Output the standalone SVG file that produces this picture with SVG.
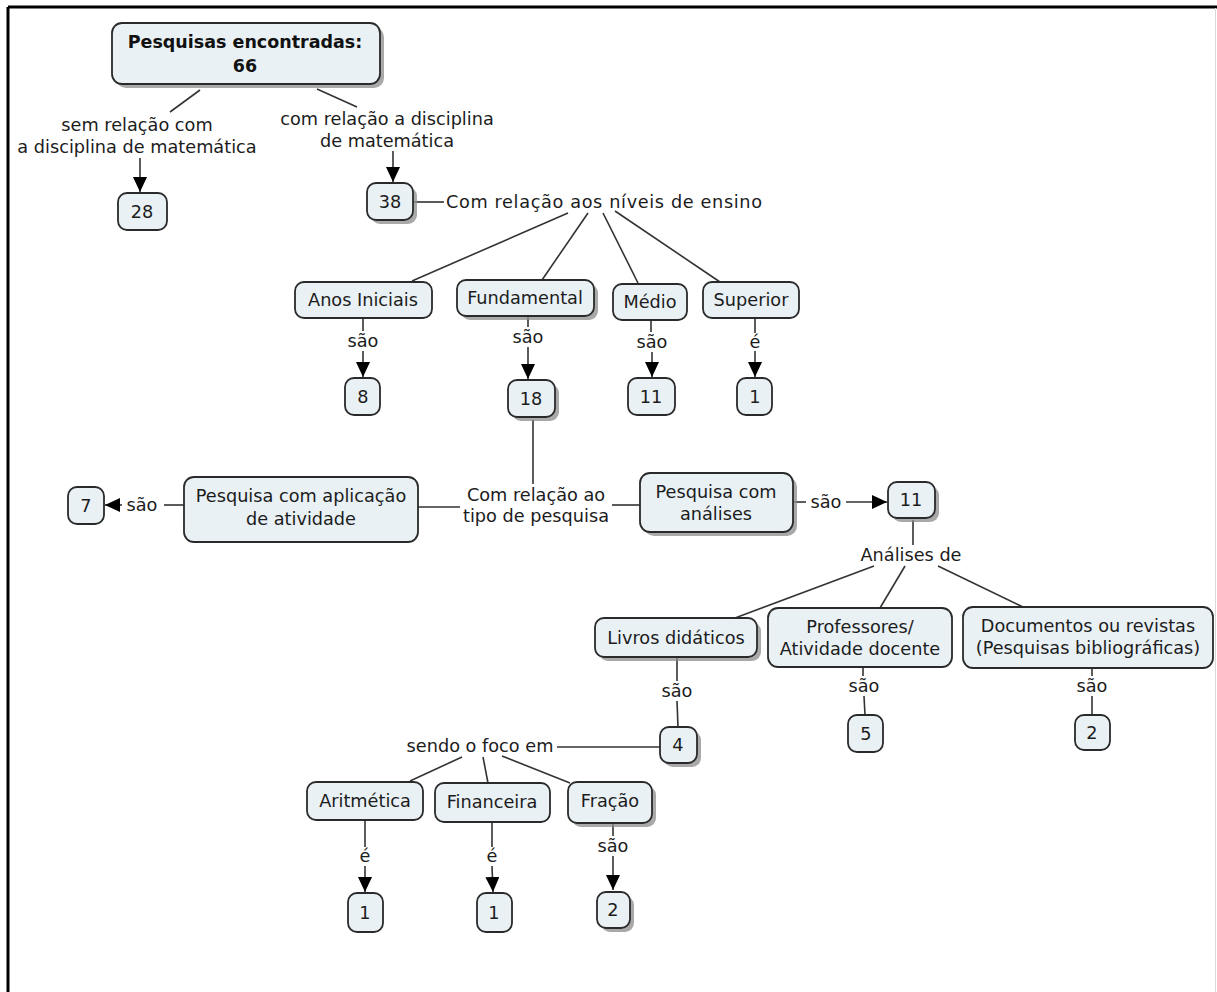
<svg xmlns="http://www.w3.org/2000/svg" width="1217" height="992" viewBox="0 0 1217 992">
<style>
  text { font-family: "DejaVu Sans", Verdana, sans-serif; font-size: 17.7px; fill: #1c1c1c; text-anchor: middle; }
  text.b { font-weight: bold; font-size: 17.5px; fill: #111; }
  text.l { text-anchor: start; }
  rect.n { fill: #e9f1f5; stroke: #2a2a2a; stroke-width: 1.8; }
  rect.s { fill: #8c8c8c; opacity: 0.75; }
  #connectors line, #connectors polyline { stroke: #333; stroke-width: 1.6; fill: none; }
  .frame { stroke: #000; stroke-width: 3; }
</style>
<defs>
  <marker id="arr" viewBox="0 0 15 14" refX="15" refY="7" markerWidth="15" markerHeight="14" orient="auto" markerUnits="userSpaceOnUse">
    <path d="M0,0 L15,7 L0,14 z" fill="#000"/>
  </marker>
</defs>
<rect x="0" y="0" width="1217" height="992" fill="#fff"/>
<line class="frame" x1="8" y1="7" x2="1217" y2="7"/>
<line class="frame" x1="8" y1="7" x2="8" y2="992"/>
<line x1="1215.5" y1="8" x2="1215.5" y2="992" stroke="#d8d8d8" stroke-width="1"/>

<g id="connectors">
  <line x1="200" y1="90" x2="170" y2="112"/>
  <line x1="317" y1="89" x2="357" y2="107"/>
  <line x1="140" y1="158" x2="140" y2="192" marker-end="url(#arr)"/>
  <line x1="393" y1="151" x2="393" y2="182" marker-end="url(#arr)"/>
  <line x1="414" y1="202" x2="444" y2="202"/>
  <line x1="568" y1="213" x2="412" y2="281"/>
  <line x1="588" y1="213" x2="542" y2="280"/>
  <line x1="603" y1="213" x2="638" y2="283"/>
  <line x1="615" y1="211" x2="720" y2="282"/>
  <line x1="363" y1="318" x2="363" y2="331"/>
  <line x1="363" y1="351" x2="363" y2="377" marker-end="url(#arr)"/>
  <line x1="528" y1="316" x2="528" y2="327"/>
  <line x1="528" y1="347" x2="528" y2="379" marker-end="url(#arr)"/>
  <line x1="651" y1="320" x2="651" y2="332"/>
  <line x1="652" y1="352" x2="652" y2="377" marker-end="url(#arr)"/>
  <line x1="755" y1="318" x2="755" y2="333"/>
  <line x1="755" y1="351" x2="755" y2="377" marker-end="url(#arr)"/>
  <line x1="533" y1="420" x2="533" y2="484"/>
  <line x1="460" y1="507" x2="418" y2="507"/>
  <line x1="612" y1="505" x2="640" y2="505"/>
  <line x1="793" y1="502" x2="806" y2="502"/>
  <line x1="846" y1="502" x2="887" y2="502" marker-end="url(#arr)"/>
  <line x1="184" y1="505" x2="164" y2="505"/>
  <line x1="122" y1="505" x2="105" y2="505" marker-end="url(#arr)"/>
  <line x1="913" y1="520" x2="913" y2="545"/>
  <line x1="874" y1="566" x2="735" y2="618"/>
  <line x1="905" y1="566" x2="880" y2="608"/>
  <line x1="938" y1="566" x2="1023" y2="607"/>
  <line x1="677" y1="657" x2="677" y2="681"/>
  <line x1="677" y1="701" x2="678" y2="727"/>
  <line x1="863" y1="667" x2="863" y2="676"/>
  <line x1="864" y1="696" x2="865" y2="715"/>
  <line x1="1092" y1="668" x2="1092" y2="676"/>
  <line x1="1092" y1="696" x2="1092" y2="715"/>
  <line x1="557" y1="747" x2="660" y2="747"/>
  <line x1="462" y1="757" x2="410" y2="781"/>
  <line x1="483" y1="757" x2="488" y2="783"/>
  <line x1="502" y1="756" x2="570" y2="783"/>
  <line x1="365" y1="820" x2="365" y2="847"/>
  <line x1="365" y1="866" x2="365" y2="892" marker-end="url(#arr)"/>
  <line x1="492" y1="822" x2="492" y2="847"/>
  <line x1="492" y1="866" x2="493" y2="892" marker-end="url(#arr)"/>
  <line x1="613" y1="823" x2="613" y2="836"/>
  <line x1="613" y1="856" x2="613" y2="890" marker-end="url(#arr)"/>
</g>

<g id="link-labels">
  <text x="137" y="131">sem relação com</text>
  <text x="137" y="153">a disciplina de matemática</text>
  <text x="387" y="125">com relação a disciplina</text>
  <text x="387" y="147">de matemática</text>
  <text class="l" x="446" y="208" textLength="316" lengthAdjust="spacing">Com relação aos níveis de ensino</text>
  <text x="363" y="347">são</text>
  <text x="528" y="343">são</text>
  <text x="652" y="348">são</text>
  <text x="755" y="348">é</text>
  <text x="536" y="501">Com relação ao</text>
  <text x="536" y="522">tipo de pesquisa</text>
  <text x="826" y="508">são</text>
  <text x="142" y="511">são</text>
  <text x="911" y="561">Análises de</text>
  <text x="677" y="697">são</text>
  <text x="864" y="692">são</text>
  <text x="1092" y="692">são</text>
  <text x="480" y="752">sendo o foco em</text>
  <text x="365" y="862">é</text>
  <text x="492" y="862">é</text>
  <text x="613" y="852">são</text>
</g>

<g id="n-root"><rect class="s" x="116" y="27" width="268" height="61" rx="10"/><rect class="n" x="112" y="23" width="268" height="61" rx="10"/><text class="b" x="245" y="48">Pesquisas encontradas:</text><text class="b" x="245" y="72">66</text></g>
<g id="n-28"><rect class="n" x="118" y="193" width="49" height="37" rx="9"/><text x="142" y="218">28</text></g>
<g id="n-38"><rect class="s" x="371" y="187" width="46" height="37" rx="9"/><rect class="n" x="367" y="183" width="46" height="37" rx="9"/><text x="390" y="208">38</text></g>
<g id="n-anos"><rect class="n" x="295" y="282" width="137" height="36" rx="9"/><text x="363" y="306">Anos Iniciais</text></g>
<g id="n-fund"><rect class="s" x="461" y="284" width="137" height="36" rx="9"/><rect class="n" x="457" y="280" width="137" height="36" rx="9"/><text x="525" y="304">Fundamental</text></g>
<g id="n-medio"><rect class="n" x="613" y="284" width="74" height="36" rx="9"/><text x="650" y="308">Médio</text></g>
<g id="n-sup"><rect class="n" x="703" y="282" width="96" height="36" rx="9"/><text x="751" y="306">Superior</text></g>
<g id="n-8"><rect class="n" x="345" y="378" width="35" height="37" rx="9"/><text x="363" y="403">8</text></g>
<g id="n-18"><rect class="s" x="512" y="384" width="47" height="37" rx="9"/><rect class="n" x="508" y="380" width="47" height="37" rx="9"/><text x="531" y="405">18</text></g>
<g id="n-11a"><rect class="n" x="628" y="378" width="47" height="37" rx="9"/><text x="651" y="403">11</text></g>
<g id="n-1a"><rect class="n" x="737" y="378" width="35" height="37" rx="9"/><text x="755" y="403">1</text></g>
<g id="n-aplic"><rect class="n" x="184" y="477" width="234" height="65" rx="10"/><text x="301" y="502">Pesquisa com aplicação</text><text x="301" y="525">de atividade</text></g>
<g id="n-7"><rect class="n" x="68" y="487" width="36" height="37" rx="9"/><text x="86" y="512">7</text></g>
<g id="n-anal"><rect class="s" x="644" y="477" width="153" height="59" rx="10"/><rect class="n" x="640" y="473" width="153" height="59" rx="10"/><text x="716" y="498">Pesquisa com</text><text x="716" y="520">análises</text></g>
<g id="n-11b"><rect class="s" x="892" y="486" width="47" height="36" rx="9"/><rect class="n" x="888" y="482" width="47" height="36" rx="9"/><text x="911" y="506">11</text></g>
<g id="n-livros"><rect class="s" x="599" y="622" width="162" height="39" rx="9"/><rect class="n" x="595" y="618" width="162" height="39" rx="9"/><text x="676" y="644">Livros didáticos</text></g>
<g id="n-prof"><rect class="n" x="768" y="608" width="184" height="59" rx="10"/><text x="860" y="633">Professores/</text><text x="860" y="655">Atividade docente</text></g>
<g id="n-doc"><rect class="n" x="963" y="607" width="250" height="61" rx="10"/><text x="1088" y="632">Documentos ou revistas</text><text x="1088" y="654">(Pesquisas bibliográficas)</text></g>
<g id="n-4"><rect class="s" x="664" y="731" width="37" height="36" rx="9"/><rect class="n" x="660" y="727" width="37" height="36" rx="9"/><text x="678" y="751">4</text></g>
<g id="n-5"><rect class="n" x="848" y="715" width="35" height="37" rx="9"/><text x="866" y="740">5</text></g>
<g id="n-2a"><rect class="n" x="1075" y="715" width="35" height="35" rx="9"/><text x="1092" y="739">2</text></g>
<g id="n-arit"><rect class="n" x="307" y="782" width="116" height="38" rx="9"/><text x="365" y="807">Aritmética</text></g>
<g id="n-fin"><rect class="n" x="435" y="783" width="115" height="39" rx="9"/><text x="492" y="808">Financeira</text></g>
<g id="n-frac"><rect class="s" x="572" y="786" width="84" height="41" rx="9"/><rect class="n" x="568" y="782" width="84" height="41" rx="9"/><text x="610" y="807">Fração</text></g>
<g id="n-1b"><rect class="n" x="348" y="893" width="35" height="39" rx="9"/><text x="365" y="919">1</text></g>
<g id="n-1c"><rect class="n" x="477" y="893" width="35" height="39" rx="9"/><text x="494" y="919">1</text></g>
<g id="n-2b"><rect class="s" x="601" y="896" width="33" height="36" rx="9"/><rect class="n" x="597" y="892" width="33" height="36" rx="9"/><text x="613" y="916">2</text></g>
</svg>
